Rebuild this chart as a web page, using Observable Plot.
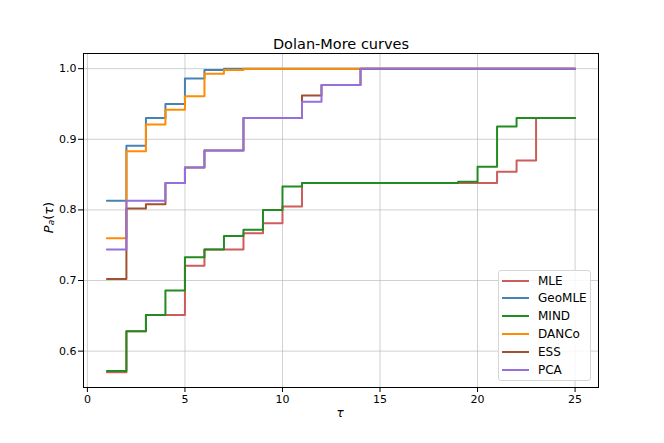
<!DOCTYPE html>
<html>
<head>
<meta charset="utf-8">
<script src="https://cdn.jsdelivr.net/npm/d3@7"></script>
<script src="https://cdn.jsdelivr.net/npm/@observablehq/plot@0.6"></script>
<style>
  body { margin: 0; background: #fff; font-family: "DejaVu Sans", sans-serif; }
  #wrap { position: relative; width: 664px; height: 443px; }
  #legend { position: absolute; left: 498px; top: 270px; width: 93px; height: 111px; box-sizing: border-box;
            border: 1px solid #d6d6d6; border-radius: 3px; background: rgba(255,255,255,0.85); font-size: 12px; color: #000; }
  .row { position: absolute; left: 0; height: 18px; line-height: 18px; white-space: nowrap; }
  .swatch { position: absolute; left: 3px; top: 8px; width: 27px; height: 2px; }
  .lab { position: absolute; left: 39px; top: 0; }
</style>
</head>
<body>
<div id="wrap"><div id="legend"></div></div>
<script>
const series = ["MLE", "GeoMLE", "MIND", "DANCo", "ESS", "PCA"];
const colors = ["indianred", "steelblue", "forestgreen", "darkorange", "sienna", "mediumpurple"];
const tau = [1,2,3,4,5,6,7,8,9,10,11,12,13,14,15,16,17,18,19,20,21,22,23,24,25];
const MLE    = [0.570,0.628,0.651,0.651,0.721,0.744,0.744,0.767,0.781,0.805,0.838,0.838,0.838,0.838,0.838,0.838,0.838,0.838,0.838,0.838,0.854,0.870,0.930,0.930,0.930];
const GeoMLE = [0.813,0.891,0.930,0.950,0.986,0.998,1.000,1.000,1.000,1.000,1.000,1.000,1.000,1.000,1.000,1.000,1.000,1.000,1.000,1.000,1.000,1.000,1.000,1.000,1.000];
const MIND   = [0.572,0.628,0.651,0.686,0.733,0.744,0.763,0.772,0.800,0.833,0.838,0.838,0.838,0.838,0.838,0.838,0.838,0.838,0.840,0.861,0.918,0.930,0.930,0.930,0.930];
const DANCo  = [0.760,0.883,0.921,0.942,0.961,0.993,0.998,1.000,1.000,1.000,1.000,1.000,1.000,1.000,1.000,1.000,1.000,1.000,1.000,1.000,1.000,1.000,1.000,1.000,1.000];
const ESS    = [0.702,0.802,0.808,0.838,0.860,0.884,0.884,0.930,0.930,0.930,0.962,0.977,0.977,1.000,1.000,1.000,1.000,1.000,1.000,1.000,1.000,1.000,1.000,1.000,1.000];
const PCA    = [0.744,0.813,0.813,0.838,0.860,0.884,0.884,0.930,0.930,0.930,0.953,0.977,0.977,1.000,1.000,1.000,1.000,1.000,1.000,1.000,1.000,1.000,1.000,1.000,1.000];
const xTicks = [0, 5, 10, 15, 20, 25];
const yTicks = [0.6, 0.7, 0.8, 0.9, 1.0];
const title = "Dolan-More curves";

const values = [MLE, GeoMLE, MIND, DANCo, ESS, PCA];
const data = series.flatMap((s, i) => values[i].map((v, j) => ({series: s, tau: tau[j], p: v})));

const gridStyle = {stroke: "#b0b0b0", strokeOpacity: 0.75, strokeWidth: 0.8};

const plot = Plot.plot({
  width: 664,
  height: 443,
  marginLeft: 83,
  marginRight: 66,
  marginTop: 53,
  marginBottom: 56,
  style: {fontFamily: "DejaVu Sans, sans-serif", fontSize: "11px", color: "#000", background: "#fff"},
  x: {domain: [-0.2, 26.2], label: null},
  y: {domain: [0.5485, 1.0215], label: null},
  color: {domain: series, range: colors},
  marks: [
    Plot.gridX(xTicks, gridStyle),
    Plot.gridY(yTicks, gridStyle),
    Plot.axisX(xTicks, {tickSize: 5, tickPadding: 3, label: null, stroke: "#000"}),
    Plot.axisY(yTicks, {tickSize: 5, tickPadding: 2, label: null, tickFormat: d3.format(".1f"), stroke: "#000"}),
    Plot.line(data, {x: "tau", y: "p", z: "series", stroke: "series", curve: "step-after", strokeWidth: 2}),
    Plot.frame({stroke: "#000", strokeWidth: 1}),
    Plot.text([title], {frameAnchor: "top", lineAnchor: "bottom", dy: -5, fontSize: 14.5, fill: "#000"})
  ]
});
document.getElementById("wrap").prepend(plot);

// axis labels (math-style)
const svg = d3.select(plot);
const yl = svg.append("text")
  .attr("transform", "translate(48,217.5) rotate(-90)")
  .attr("text-anchor", "middle")
  .attr("dominant-baseline", "central")
  .attr("fill", "#000")
  .style("font-size", "13px");
yl.append("tspan").attr("font-style", "italic").text("P");
yl.append("tspan").attr("font-style", "italic").attr("font-size", "9px").attr("dy", "3").text("a");
yl.append("tspan").attr("dy", "-3").text("(");
yl.append("tspan").attr("font-style", "italic").text("τ");
yl.append("tspan").text(")");

svg.append("text")
  .attr("x", 340).attr("y", 413)
  .attr("text-anchor", "middle")
  .attr("dominant-baseline", "central")
  .attr("font-style", "italic")
  .attr("fill", "#000")
  .style("font-size", "12px")
  .text("τ");

// legend
const leg = d3.select("#legend");
series.forEach((s, i) => {
  const row = leg.append("div").attr("class", "row").style("top", (0.5 + i * 17.9) + "px");
  row.append("div").attr("class", "swatch").style("background", colors[i]);
  row.append("div").attr("class", "lab").text(s);
});
</script>
</body>
</html>
